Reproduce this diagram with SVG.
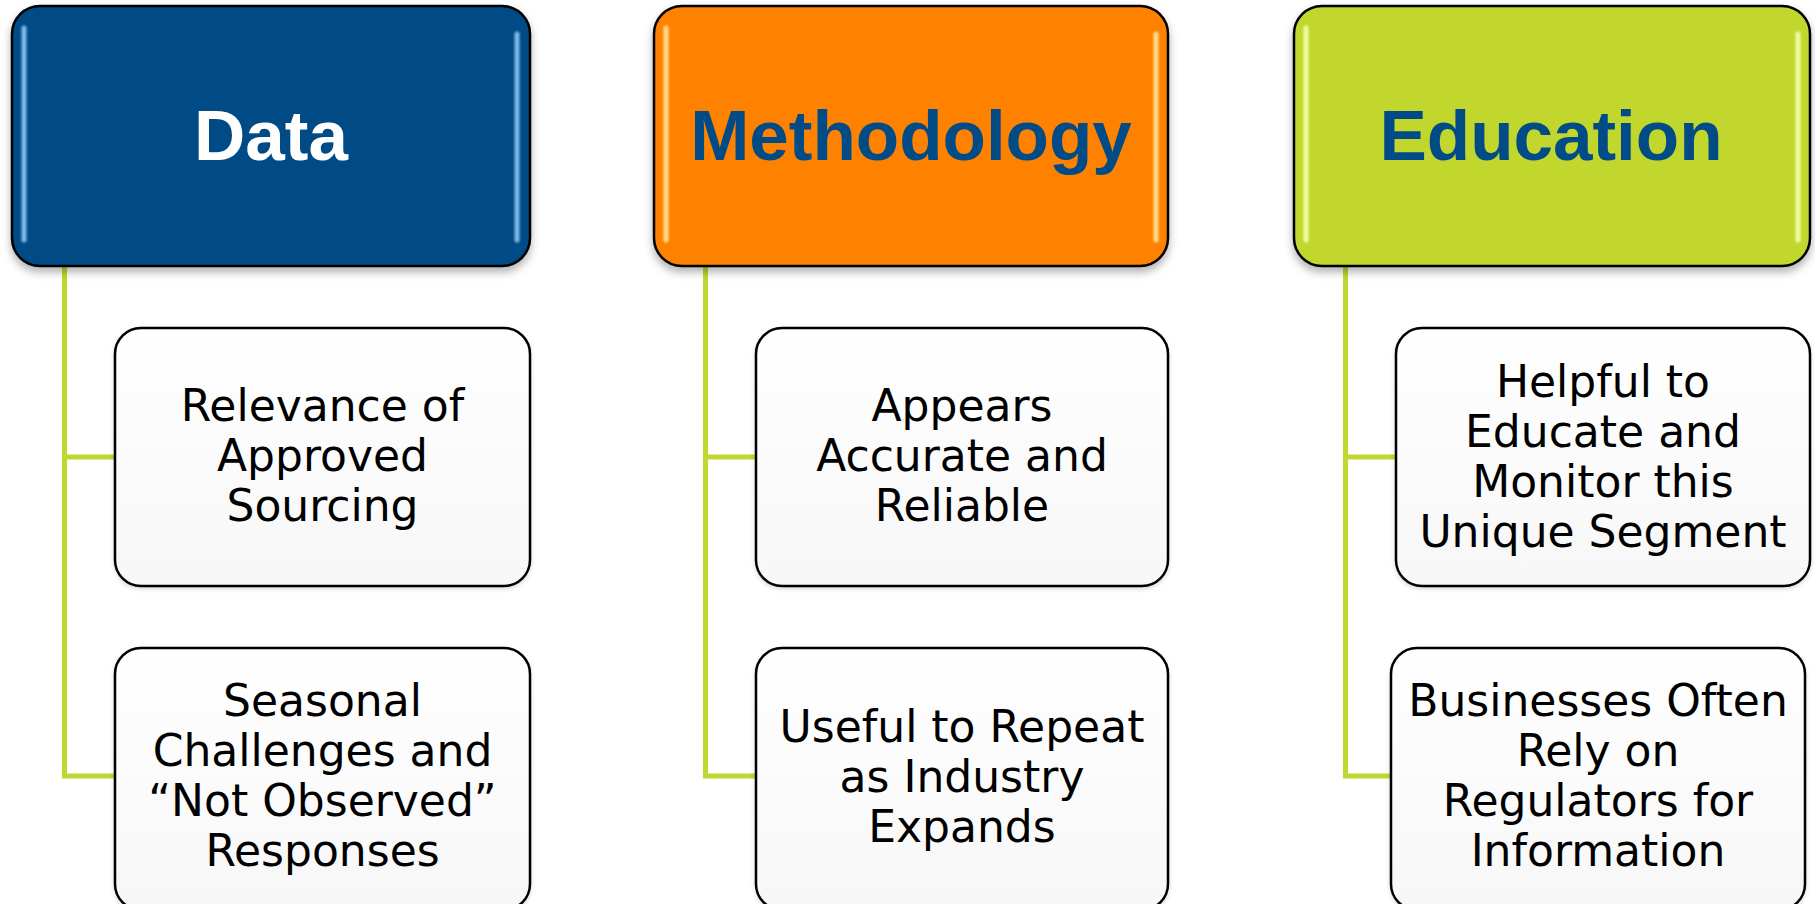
<svg xmlns="http://www.w3.org/2000/svg" width="1815" height="904" viewBox="0 0 1815 904">
<style>
.hdr{stroke:#000;stroke-width:2.5}
.hl{fill:none;stroke-width:5;stroke-linecap:round;opacity:0.9}
.htxt{font-family:"Liberation Sans",Arial,sans-serif;font-weight:bold;font-size:71px;text-anchor:middle}
.child{fill:url(#cg);stroke:#000;stroke-width:2.5}
.ctxt{font-family:"DejaVu Sans","Liberation Sans",sans-serif;font-size:44px;text-anchor:middle;fill:#000}
.conn{fill:none;stroke:#c0d72f;stroke-width:5;stroke-linejoin:miter}
</style>
<defs>
<linearGradient id="cg" x1="0" y1="0" x2="0" y2="1">
<stop offset="0" stop-color="#ffffff"/>
<stop offset="1" stop-color="#f7f7f7"/>
</linearGradient>
<filter id="sh" x="-5%" y="-5%" width="110%" height="120%">
<feDropShadow dx="0" dy="5" stdDeviation="4" flood-color="#000" flood-opacity="0.3"/>
</filter>
<filter id="sh2" x="-5%" y="-5%" width="110%" height="120%">
<feDropShadow dx="0" dy="2" stdDeviation="2" flood-color="#000" flood-opacity="0.15"/>
</filter>
<filter id="soft" x="-50%" y="-10%" width="200%" height="120%">
<feGaussianBlur stdDeviation="1.2"/>
</filter>
</defs>
<g id="connectors">
<path class="conn" d="M64.5,266 V776 H115 M64.5,457 H115"/>
<path class="conn" d="M705.5,266 V776 H756 M705.5,457 H756"/>
<path class="conn" d="M1345.5,266 V776 H1391 M1345.5,457 H1396"/>
</g>
<g id="node-data">
<rect class="hdr" filter="url(#sh)" x="12" y="6" width="518" height="260" rx="28" fill="#014c86"/>
<path class="hl" filter="url(#soft)" stroke="#8fc6f2" d="M24,28 V240 M517,34 V240"/>
<text class="htxt" x="271" y="160" fill="#ffffff">Data</text>
</g>
<g id="node-methodology">
<rect class="hdr" filter="url(#sh)" x="654" y="6" width="514" height="260" rx="28" fill="#fe8204"/>
<path class="hl" filter="url(#soft)" stroke="#ffe69a" d="M666,28 V240 M1156,34 V240"/>
<text class="htxt" x="911" y="160" fill="#014c86">Methodology</text>
</g>
<g id="node-education">
<rect class="hdr" filter="url(#sh)" x="1294" y="6" width="516" height="260" rx="28" fill="#c1d72f"/>
<path class="hl" filter="url(#soft)" stroke="#f6ffb0" d="M1306,28 V240 M1798,34 V240"/>
<text class="htxt" x="1551" y="160" fill="#014c86">Education</text>
</g>
<g id="node-relevance">
<rect class="child" filter="url(#sh2)" x="115" y="328" width="415" height="258" rx="26"/>
<text class="ctxt"><tspan x="322.5" y="421">Relevance of</tspan><tspan x="322.5" y="471">Approved</tspan><tspan x="322.5" y="521">Sourcing</tspan></text>
</g>
<g id="node-seasonal">
<rect class="child" filter="url(#sh2)" x="115" y="648" width="415" height="262" rx="26"/>
<text class="ctxt"><tspan x="322.5" y="716">Seasonal</tspan><tspan x="322.5" y="766">Challenges and</tspan><tspan x="322.5" y="816">“Not Observed”</tspan><tspan x="322.5" y="866">Responses</tspan></text>
</g>
<g id="node-appears">
<rect class="child" filter="url(#sh2)" x="756" y="328" width="412" height="258" rx="26"/>
<text class="ctxt"><tspan x="962" y="421">Appears</tspan><tspan x="962" y="471">Accurate and</tspan><tspan x="962" y="521">Reliable</tspan></text>
</g>
<g id="node-useful">
<rect class="child" filter="url(#sh2)" x="756" y="648" width="412" height="262" rx="26"/>
<text class="ctxt"><tspan x="962" y="742">Useful to Repeat</tspan><tspan x="962" y="792">as Industry</tspan><tspan x="962" y="842">Expands</tspan></text>
</g>
<g id="node-helpful">
<rect class="child" filter="url(#sh2)" x="1396" y="328" width="414" height="258" rx="26"/>
<text class="ctxt"><tspan x="1603" y="397">Helpful to</tspan><tspan x="1603" y="447">Educate and</tspan><tspan x="1603" y="497">Monitor this</tspan><tspan x="1603" y="547">Unique Segment</tspan></text>
</g>
<g id="node-businesses">
<rect class="child" filter="url(#sh2)" x="1391" y="648" width="414" height="262" rx="26"/>
<text class="ctxt"><tspan x="1598" y="716">Businesses Often</tspan><tspan x="1598" y="766">Rely on</tspan><tspan x="1598" y="816">Regulators for</tspan><tspan x="1598" y="866">Information</tspan></text>
</g>
</svg>
